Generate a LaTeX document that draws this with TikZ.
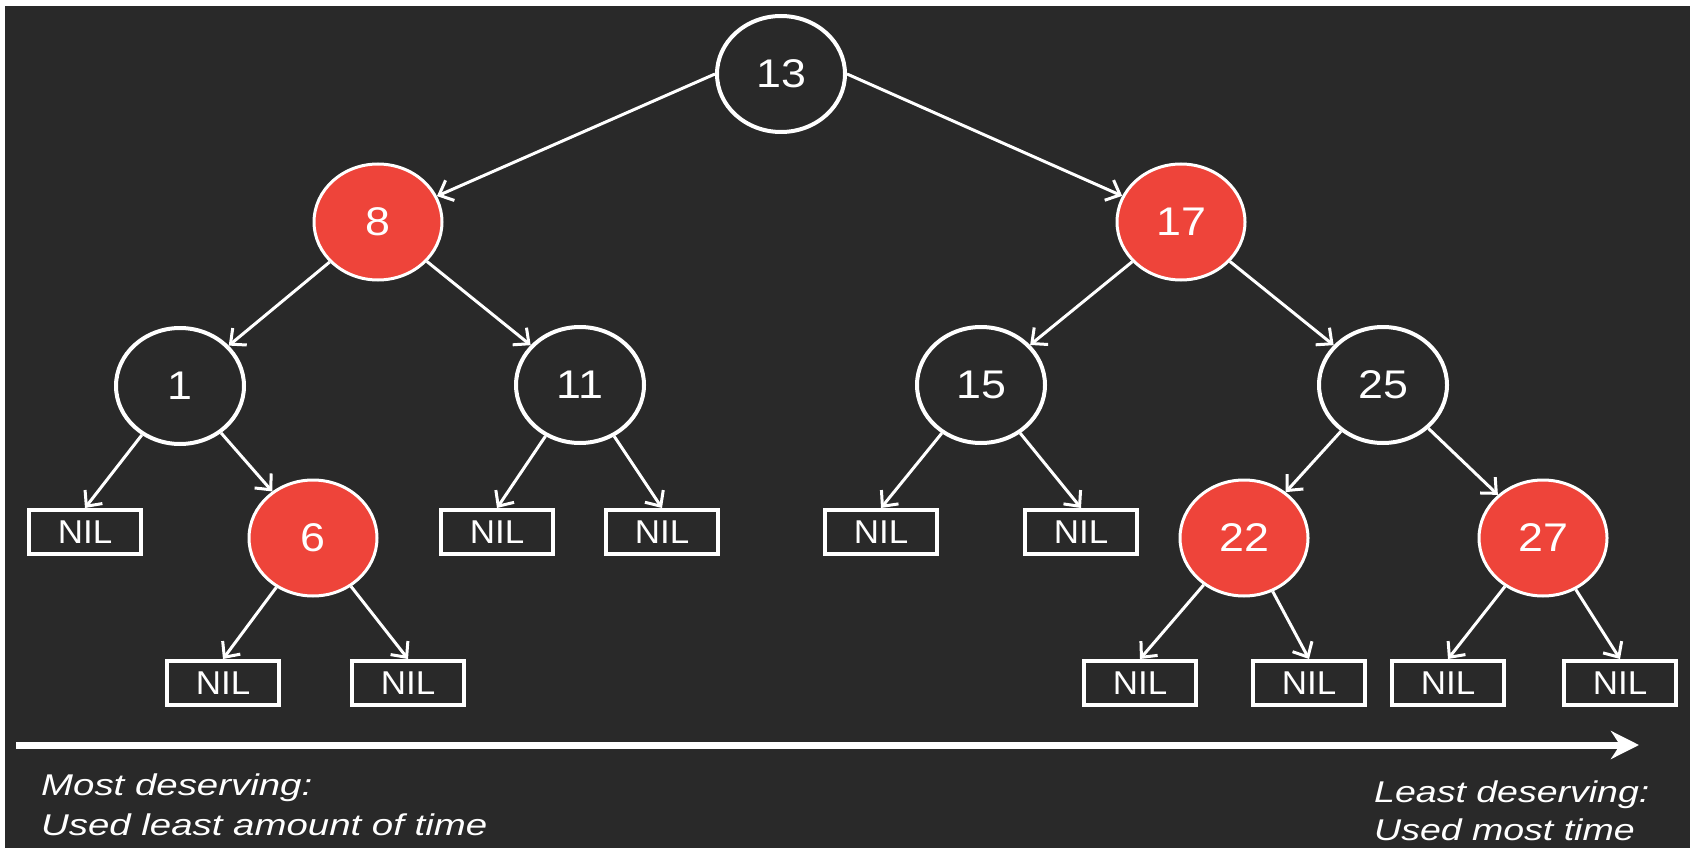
\documentclass[tikz,border=0pt]{standalone}
\usepackage{graphicx}
\usepackage{fontspec}
\setmainfont{Liberation Sans}
\usetikzlibrary{shapes.geometric,arrows.meta}
\definecolor{bg}{RGB}{41,41,41}
\definecolor{rbred}{RGB}{238,68,58}
\newcommand{\hs}[2]{\scalebox{#1}[1]{#2}}
\begin{document}
\begin{tikzpicture}[x=1pt,y=-1pt,
  blacknode/.style={ellipse, draw=white, line width=4pt, minimum width=128pt, minimum height=116pt, inner sep=0pt, text=white, font=\fontsize{40}{40}\selectfont},
  rednode/.style={blacknode, fill=rbred, line width=3pt},
  nilbox/.style={rectangle, draw=white, line width=4pt, minimum width=112pt, minimum height=44pt, inner sep=0pt, text=white, font=\fontsize{33}{33}\selectfont},
  link/.style={draw=white, line width=3pt, -{Straight Barb[length=12pt,width=22pt]}},
  caption/.style={anchor=base west, inner sep=0pt, text=white, font=\fontsize{30}{30}\selectfont\itshape}
]
\useasboundingbox (0,0) rectangle (1690,848);
\fill[bg] (0,0) rectangle (1690,848);
\fill[white] (0,0) rectangle (1690,6);
\fill[white] (0,0) rectangle (5,848);

% tree nodes
\node[blacknode] (n13) at (781,74) {\hs{1.12}{13}};
\node[rednode] (n8) at (378,222) {\hs{1.12}{8}};
\node[rednode] (n17) at (1181,222) {\hs{1.12}{17}};
\node[blacknode] (n1) at (180,386) {\hs{1.12}{1}};
\node[blacknode] (n11) at (580,385) {\hs{1.12}{11}};
\node[blacknode] (n15) at (981,385) {\hs{1.12}{15}};
\node[blacknode] (n25) at (1383,385) {\hs{1.12}{25}};
\node[rednode] (n6) at (313,538) {\hs{1.12}{6}};
\node[rednode] (n22) at (1244,538) {\hs{1.12}{22}};
\node[rednode] (n27) at (1543,538) {\hs{1.12}{27}};

% NIL leaves
\node[nilbox] (nA) at (85,532) {\hs{1.06}{NIL}};
\node[nilbox] (nB) at (497,532) {\hs{1.06}{NIL}};
\node[nilbox] (nC) at (662,532) {\hs{1.06}{NIL}};
\node[nilbox] (nD) at (881,532) {\hs{1.06}{NIL}};
\node[nilbox] (nE) at (1081,532) {\hs{1.06}{NIL}};
\node[nilbox] (nF) at (223,683) {\hs{1.06}{NIL}};
\node[nilbox] (nG) at (408,683) {\hs{1.06}{NIL}};
\node[nilbox] (nH) at (1140,683) {\hs{1.06}{NIL}};
\node[nilbox] (nI) at (1309,683) {\hs{1.06}{NIL}};
\node[nilbox] (nJ) at (1448,683) {\hs{1.06}{NIL}};
\node[nilbox] (nK) at (1620,683) {\hs{1.06}{NIL}};

% connectors
\draw[link] (n13.west) -- (n8);
\draw[link] (n13.east) -- (n17);
\draw[link] (n8) -- (n1);
\draw[link] (n8) -- (n11);
\draw[link] (n17) -- (n15);
\draw[link] (n17) -- (n25);
\draw[link] (n1) -- (nA.north);
\draw[link] (n1) -- (n6);
\draw[link] (n11) -- (nB.north);
\draw[link] (n11) -- (nC.north);
\draw[link] (n15) -- (nD.north);
\draw[link] (n15) -- (nE.north);
\draw[link] (n25) -- (n22);
\draw[link] (n25) -- (n27);
\draw[link] (n6) -- (nF.north);
\draw[link] (n6) -- (nG.north);
\draw[link] (n22) -- (nH.north);
\draw[link] (n22) -- (nI.north);
\draw[link] (n27) -- (nJ.north);
\draw[link] (n27) -- (nK.north);

% bottom arrow
\coordinate (astart) at (16,745);
\coordinate (aend) at (1639,745);
\draw[white, line width=7pt, -{Stealth[length=28pt,width=28pt,inset=9pt]}] (astart) -- (aend);

% captions
\node[caption] (tm1) at (41,795) {\hs{1.28}{Most deserving:}};
\node[caption] (tm2) at (41,835) {\hs{1.28}{Used least amount of time}};
\node[caption] (tl1) at (1374,802) {\hs{1.25}{Least deserving:}};
\node[caption] (tl2) at (1374,840) {\hs{1.25}{Used most time}};
\end{tikzpicture}
\end{document}
